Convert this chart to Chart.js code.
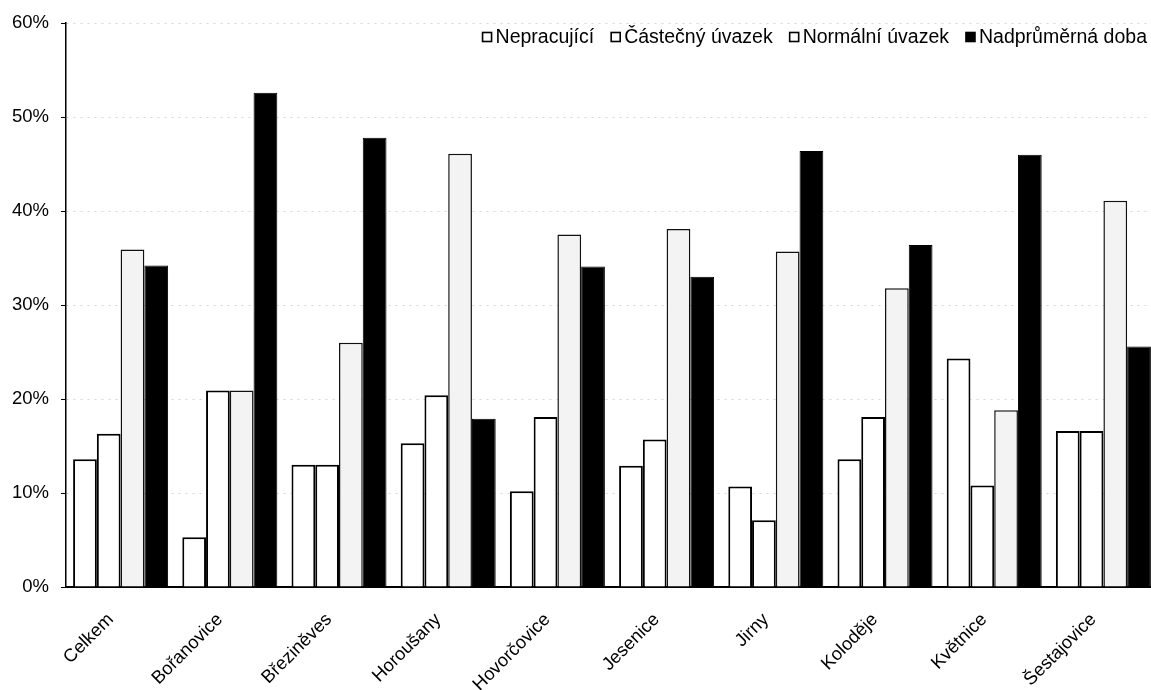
<!DOCTYPE html>
<html>
<head>
<meta charset="utf-8">
<script src="https://cdn.jsdelivr.net/npm/chart.js@4/dist/chart.umd.min.js"></script>
<style>
html,body{margin:0;padding:0;background:#fff;overflow:hidden;}
#wrap{width:1158px;height:690px;}
</style>
</head>
<body>
<div id="wrap"><canvas id="c" width="1158" height="690"></canvas></div>
<script>
const categories = ["Celkem","Bořanovice","Březiněves","Horoušany","Hovorčovice","Jesenice","Jirny","Koloděje","Květnice","Šestajovice"];
const seriesNames = ["Nepracující","Částečný úvazek","Normální úvazek","Nadprůměrná doba"];
const nepracujici = [13.6, 5.3, 13.0, 15.3, 10.2, 12.9, 10.7, 13.6, 24.3, 16.6];
const castecny = [16.3, 20.9, 13.0, 20.4, 18.1, 15.7, 7.1, 18.1, 10.8, 16.6];
const normalni = [35.9, 20.9, 26.0, 46.1, 37.5, 38.1, 35.7, 31.8, 18.8, 41.1];
const nadprumerna = [34.2, 52.6, 47.8, 17.9, 34.1, 33.0, 46.4, 36.4, 46.0, 25.6];
const yMin = 0, yMax = 60, yStep = 10;

const FONT = "'Liberation Sans', Arial, sans-serif";

// Legend drawn inside the plot area, top-right, from the datasets' labels
const insideLegend = {
  id: 'insideLegend',
  afterDraw(chart) {
    const ctx = chart.ctx;
    const size = 19.5, box = 9, gapBox = 4, gapItem = 17;
    ctx.save();
    ctx.font = size + 'px ' + FONT;
    ctx.textBaseline = 'middle';
    ctx.textAlign = 'left';
    const items = chart.data.datasets.map((ds, i) => ({
      text: ds.label,
      fill: i === 3 ? '#000' : '#fff',
      w: ctx.measureText(ds.label).width
    }));
    const total = items.reduce((s, it) => s + box + gapBox + it.w, 0) + gapItem * (items.length - 1);
    let x = 1147 - total;
    const y = 37;
    items.forEach(it => {
      ctx.fillStyle = it.fill;
      ctx.fillRect(x, y - box / 2, box, box);
      ctx.strokeStyle = '#000';
      ctx.lineWidth = 1.6;
      ctx.strokeRect(x, y - box / 2, box, box);
      ctx.fillStyle = '#000';
      ctx.fillText(it.text, x + box + gapBox, y + 1);
      x += box + gapBox + it.w + gapItem;
    });
    ctx.restore();
  }
};

new Chart(document.getElementById('c'), {
  type: 'bar',
  data: {
    labels: categories,
    datasets: [
      {label: seriesNames[0], data: nepracujici, backgroundColor: '#ffffff', borderColor: '#000', borderWidth: 2},
      {label: seriesNames[1], data: castecny, backgroundColor: '#ffffff', borderColor: '#000', borderWidth: 2},
      {label: seriesNames[2], data: normalni, backgroundColor: '#f3f3f3', borderColor: '#111', borderWidth: 1.5},
      {label: seriesNames[3], data: nadprumerna, backgroundColor: '#000000', borderColor: '#000', borderWidth: 1}
    ]
  },
  options: {
    responsive: false,
    animation: false,
    events: [],
    layout: {padding: {top: 20, right: 0, left: 0, bottom: 0}},
    datasets: {bar: {categoryPercentage: 0.87, barPercentage: 1.0}},
    plugins: {
      tooltip: {enabled: false},
      legend: {display: false}
    },
    scales: {
      x: {
        grid: {display: false, drawTicks: false},
        border: {display: true, color: '#000', width: 2},
        ticks: {
          color: '#000',
          font: {family: FONT, size: 18.3},
          maxRotation: 45, minRotation: 45,
          padding: 22,
          labelOffset: -10,
          autoSkip: false
        },
        afterFit(scale) { scale.height = 103; }
      },
      y: {
        min: yMin, max: yMax,
        grid: {color: '#d6d6d6', lineWidth: 1, tickColor: '#000', tickLength: 5, drawTicks: true},
        border: {display: true, color: '#000', width: 1.5, dash: [2, 5]},
        ticks: {
          stepSize: yStep,
          color: '#000',
          font: {family: FONT, size: 18.5},
          padding: 12,
          callback: v => v + '%'
        },
        afterFit(scale) { scale.width = 66; }
      }
    }
  },
  plugins: [insideLegend]
});
</script>
</body>
</html>
